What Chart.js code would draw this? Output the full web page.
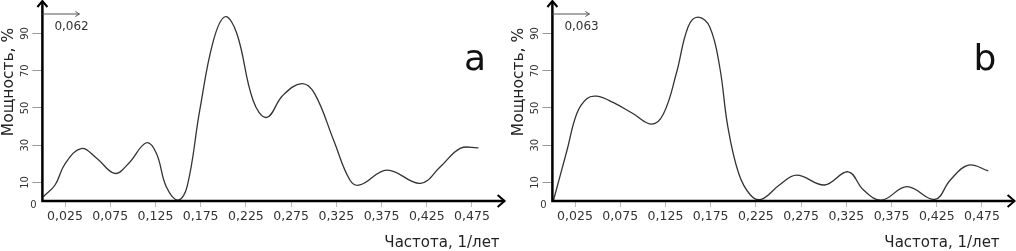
<!DOCTYPE html>
<html>
<head>
<meta charset="utf-8">
<script src="https://cdn.jsdelivr.net/npm/chart.js@4.4.0/dist/chart.umd.min.js"></script>
<style>
  body { margin: 0; background: #fff; width: 1016px; height: 251px; overflow: hidden; position: relative; }
  .panel { position: absolute; top: 0; height: 251px; }
</style>
</head>
<body>
<div class="panel" style="left:0;width:510px"><canvas id="chartA"></canvas></div>
<div class="panel" style="left:510px;width:506px"><canvas id="chartB"></canvas></div>
<script>
// Спектры мощности (a и b)
const freqA = [0.001, 0.014, 0.025, 0.043, 0.060, 0.080, 0.095, 0.115, 0.126, 0.137, 0.150, 0.160, 0.174, 0.189, 0.202, 0.215, 0.233, 0.248, 0.266, 0.287, 0.301, 0.322, 0.340, 0.351, 0.381, 0.418, 0.440, 0.462, 0.482];
const powerA = [2.3, 8.6, 20, 28.2, 23, 14.8, 20, 31.3, 25.7, 7.7, 0.5, 7.7, 48.8, 86, 99, 90, 54, 44.9, 56.8, 63.1, 57.7, 32.7, 11.3, 8.6, 16.6, 9.5, 18.4, 28.3, 28.6];

const freqB = [0.001, 0.016, 0.027, 0.038, 0.049, 0.067, 0.089, 0.110, 0.123, 0.137, 0.150, 0.161, 0.174, 0.185, 0.194, 0.206, 0.219, 0.231, 0.251, 0.270, 0.301, 0.327, 0.344, 0.364, 0.392, 0.423, 0.440, 0.460, 0.482];
const powerB = [0, 27, 47, 55, 56.3, 53, 47, 41.3, 47, 68.5, 93.5, 98.8, 93.5, 72, 39.8, 14.8, 3.2, 0.9, 8.6, 13.9, 8.6, 15.7, 5.9, 0.5, 7.7, 0.9, 11.3, 19.3, 16.2];

const xTicks = [0.025, 0.075, 0.125, 0.175, 0.225, 0.275, 0.325, 0.375, 0.425, 0.475];
const yTicks = [0, 10, 30, 50, 70, 90];

const xTitle = 'Частота, 1/лет';
const yTitle = 'Мощность, %';

const FONT = '"DejaVu Sans", Verdana, sans-serif';

function fmt(v) {
    return v.toFixed(3).replace('.', ',');
}

const decor = {
    id: 'decor',
    afterDraw(chart, args, opts) {
        const ctx = chart.ctx;
        const a = chart.chartArea;
        const x = chart.scales.x;
        const y = chart.scales.y;
        ctx.save();

        // оси со стрелками
        ctx.strokeStyle = '#000';
        ctx.lineWidth = 2.5;
        ctx.beginPath();
        ctx.moveTo(a.left, a.bottom + 1);
        ctx.lineTo(a.left, 1);
        ctx.moveTo(a.left - 1, a.bottom);
        ctx.lineTo(a.right + 10, a.bottom);
        ctx.stroke();
        ctx.lineWidth = 2;
        ctx.beginPath();
        ctx.moveTo(a.left - 5, 7);
        ctx.lineTo(a.left, 1);
        ctx.lineTo(a.left + 5, 7);
        ctx.moveTo(a.right + 3, a.bottom - 6);
        ctx.lineTo(a.right + 10, a.bottom);
        ctx.lineTo(a.right + 3, a.bottom + 6);
        ctx.stroke();

        // подписи делений
        ctx.fillStyle = '#333';
        ctx.font = '12.5px ' + FONT;
        ctx.textAlign = 'center';
        ctx.textBaseline = 'top';
        x.ticks.forEach(t => {
            ctx.fillText(fmt(t.value), x.getPixelForValue(t.value), a.bottom + 9);
        });
        ctx.font = '10px ' + FONT;
        ctx.textBaseline = 'middle';
        y.ticks.forEach(t => {
            const py = y.getPixelForValue(t.value);
            if (t.value === 0) {
                ctx.fillText('0', a.left - 9, py + 4);
            } else {
                ctx.save();
                ctx.translate(a.left - 17, py);
                ctx.rotate(-Math.PI / 2);
                ctx.fillText(String(t.value), 0, 0);
                ctx.restore();
            }
        });

        // названия осей
        ctx.fillStyle = '#222';
        ctx.font = '15px ' + FONT;
        ctx.textAlign = 'right';
        ctx.textBaseline = 'middle';
        ctx.fillText(xTitle, a.right + opts.titleShift, 243);
        ctx.save();
        ctx.translate(9, 82);
        ctx.rotate(-Math.PI / 2);
        ctx.textAlign = 'center';
        ctx.font = '15.5px ' + FONT;
        ctx.fillText(yTitle, 0, 0);
        ctx.restore();

        // разрешение
        ctx.strokeStyle = '#555';
        ctx.lineWidth = 1;
        ctx.beginPath();
        ctx.moveTo(a.left, 14);
        ctx.lineTo(a.left + 37, 14);
        ctx.moveTo(a.left + 33, 11.5);
        ctx.lineTo(a.left + 37, 14);
        ctx.lineTo(a.left + 33, 16.5);
        ctx.stroke();
        ctx.fillStyle = '#333';
        ctx.font = '12px ' + FONT;
        ctx.textAlign = 'left';
        ctx.fillText(opts.resolution, a.left + 12, 27);

        // буква панели
        ctx.fillStyle = '#111';
        ctx.font = '36px ' + FONT;
        ctx.textAlign = 'center';
        ctx.textBaseline = 'alphabetic';
        ctx.fillText(opts.letter, 475, 70);

        ctx.restore();
    }
};

function makeChart(id, freq, power, letter, resolution, titleShift, padRight) {
    const ctx = document.getElementById(id).getContext('2d');
    return new Chart(ctx, {
        type: 'line',
        data: {
            datasets: [{
                data: freq.map((f, i) => ({ x: f, y: power[i] })),
                borderColor: '#333',
                borderWidth: 1.3,
                pointRadius: 0,
                tension: 0.4,
                fill: false
            }]
        },
        options: {
            responsive: true,
            maintainAspectRatio: false,
            animation: false,
            layout: { padding: { left: 0, top: 0, right: padRight, bottom: 0 } },
            plugins: {
                legend: { display: false },
                tooltip: { enabled: false },
                decor: { letter: letter, resolution: resolution, titleShift: titleShift }
            },
            scales: {
                x: {
                    type: 'linear',
                    min: 0,
                    max: 0.5,
                    afterBuildTicks: s => { s.ticks = xTicks.map(v => ({ value: v })); },
                    afterFit: s => { s.height = 50; },
                    ticks: { display: false },
                    border: { display: false },
                    grid: { drawOnChartArea: false, drawTicks: true, tickLength: 6, color: '#bbb' }
                },
                y: {
                    min: 0,
                    max: 108,
                    afterBuildTicks: s => { s.ticks = yTicks.map(v => ({ value: v })); },
                    afterFit: s => { s.width = 42.4; },
                    ticks: { display: false },
                    border: { display: false },
                    grid: {
                        drawOnChartArea: false,
                        drawTicks: true,
                        tickLength: 10,
                        color: c => (c.tick && c.tick.value === 0) ? 'rgba(0,0,0,0)' : '#999'
                    }
                }
            }
        },
        plugins: [decor]
    });
}

makeChart('chartA', freqA, powerA, 'a', '0,062', 5, 15.4);
makeChart('chartB', freqB, powerB, 'b', '0,063', -5, 11.4);
</script>
</body>
</html>
